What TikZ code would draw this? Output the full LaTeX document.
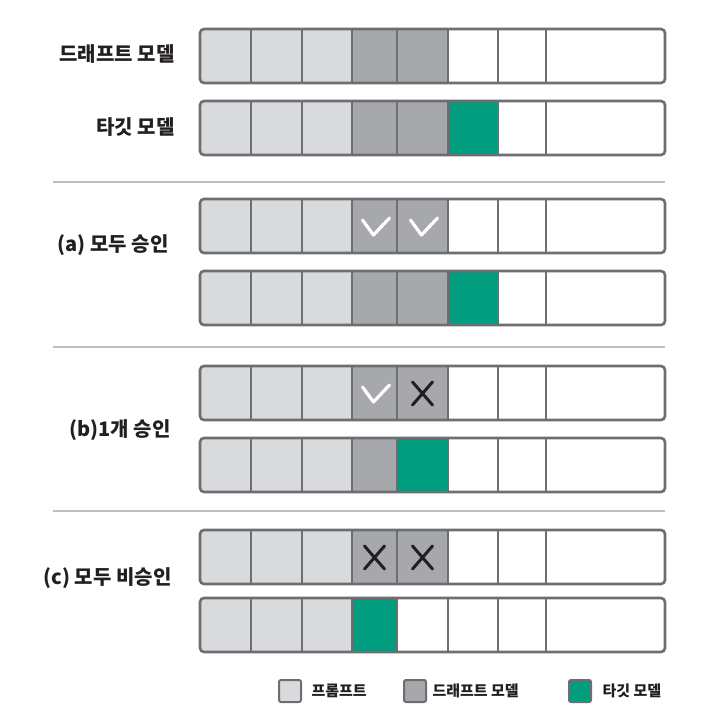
\documentclass[tikz,border=0pt]{standalone}
\usepackage{fontspec}
\newfontfamily\krfont{Noto Sans CJK KR}
\definecolor{promptgray}{HTML}{D9DADC}
\definecolor{draftgray}{HTML}{A7A8AB}
\definecolor{targetgreen}{HTML}{009E7E}
\definecolor{edgegray}{HTML}{6D6E71}
\definecolor{rulegray}{HTML}{BCBEC0}
\definecolor{inkblack}{HTML}{231F20}

\tikzset{
  cell/.style={draw=edgegray, line width=2pt, minimum height=54pt, inner sep=0pt, outer sep=0pt},
  barframe/.style={draw=edgegray, line width=2.6pt, rounded corners=4pt},
  okmark/.style={draw=white, line width=3.2pt, line cap=round, line join=round},
  nomark/.style={draw=inkblack, line width=3pt, line cap=round},
  lab/.style={anchor=east, font=\krfont\bfseries\fontsize{20}{22}\selectfont, text=inkblack},
  sep/.style={draw=rulegray, line width=2.2pt},
  key/.style={draw=edgegray, line width=2pt, rounded corners=2pt, minimum width=22pt, minimum height=22pt, inner sep=0pt},
  keytext/.style={anchor=west, font=\krfont\bfseries\fontsize{15}{17}\selectfont, text=inkblack}
}

\newcommand{\tokenbar}[3]{%
  \begin{scope}
    \clip[rounded corners=4pt] (200,#2) rectangle (665,#2+54);
    \foreach \col [count=\i] in {#3} {
      \pgfmathsetmacro\xa{{200,251,302,352,397,448,498,546}[\i-1]}
      \pgfmathsetmacro\xb{{251,302,352,397,448,498,546,665}[\i-1]}
      \node[cell, fill=\col, minimum width=\xb-\xa] (#1-\i) at ({(\xa+\xb)/2},#2+27) {};
    }
  \end{scope}
  \draw[barframe] (#1-1.north west) rectangle (#1-8.south east);
}

\begin{document}
\begin{tikzpicture}[x=1pt,y=-1pt]
\useasboundingbox (0,0) rectangle (724,720);
\tokenbar{draft}{29}{promptgray,promptgray,promptgray,draftgray,draftgray,white,white,white}
\tokenbar{target}{101}{promptgray,promptgray,promptgray,draftgray,draftgray,targetgreen,white,white}
\tokenbar{adraft}{199}{promptgray,promptgray,promptgray,draftgray,draftgray,white,white,white}
\tokenbar{atarget}{271}{promptgray,promptgray,promptgray,draftgray,draftgray,targetgreen,white,white}
\tokenbar{bdraft}{366}{promptgray,promptgray,promptgray,draftgray,draftgray,white,white,white}
\tokenbar{btarget}{438}{promptgray,promptgray,promptgray,draftgray,targetgreen,white,white,white}
\tokenbar{cdraft}{530}{promptgray,promptgray,promptgray,draftgray,draftgray,white,white,white}
\tokenbar{ctarget}{598}{promptgray,promptgray,promptgray,targetgreen,white,white,white,white}

\node[lab] (draftlab) at (178,54) {드래프트 모델};
\node[lab] (targetlab) at (178,127) {타깃 모델};
\node[lab] (alab) at (172,245) {(a) 모두 승인};
\node[lab] (blab) at (174,430) {(b)1개 승인};
\node[lab] (clab) at (175,578) {(c) 모두 비승인};

\draw[sep] (53,182) -- (665,182);
\draw[sep] (53,347) -- (665,347);
\draw[sep] (53,511) -- (665,511);

\draw[okmark] ([shift={(-12,-6)}]adraft-4.center) -- ++(11,15) -- ++(16,-17);
\draw[okmark] ([shift={(-12,-6)}]adraft-5.center) -- ++(11,15) -- ++(16,-17);
\draw[okmark] ([shift={(-12,-6)}]bdraft-4.center) -- ++(11,15) -- ++(16,-17);
\draw[nomark] ([shift={(-10,-11)}]bdraft-5.center) -- ++(20,23) ([shift={(10,-11)}]bdraft-5.center) -- ++(-20,23);
\draw[nomark] ([shift={(-10,-11)}]cdraft-4.center) -- ++(20,23) ([shift={(10,-11)}]cdraft-4.center) -- ++(-20,23);
\draw[nomark] ([shift={(-10,-11)}]cdraft-5.center) -- ++(20,23) ([shift={(10,-11)}]cdraft-5.center) -- ++(-20,23);

\node[key, fill=promptgray] (keyprompt) at (290,691) {};
\node[keytext] (keyprompttext) at (308,691) {프롬프트};
\node[key, fill=draftgray] (keydraft) at (415,691) {};
\node[keytext] (keydrafttext) at (429,691) {드래프트 모델};
\node[key, fill=targetgreen] (keytarget) at (580,691) {};
\node[keytext] (keytargettext) at (599,691) {타깃 모델};
\end{tikzpicture}
\end{document}
